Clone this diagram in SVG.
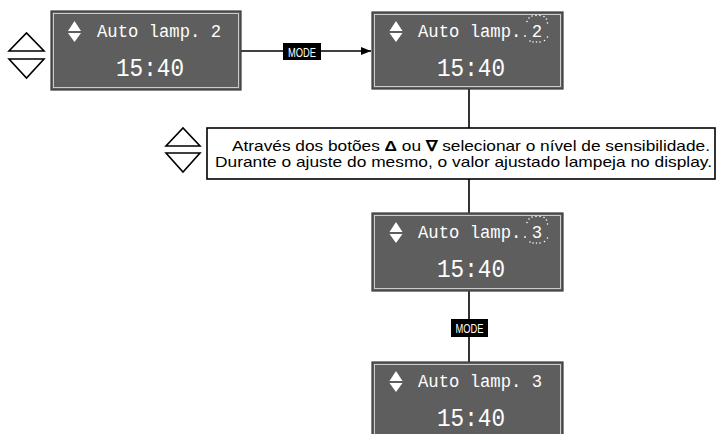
<svg xmlns="http://www.w3.org/2000/svg" width="717" height="434" viewBox="0 0 717 434">
<style>
.lcd{fill:#5e5e5e;stroke:#3a3a3a;stroke-width:1.2}
.lcdin{fill:none;stroke:#d8d8d8;stroke-width:0.9}
.t1{font-family:"Liberation Mono",monospace;font-size:19px;fill:#ffffff}
.t2{font-family:"Liberation Mono",monospace;font-size:26px;fill:#ffffff}
.ico{fill:#ffffff}
.btn{fill:#ffffff;stroke:#000000;stroke-width:1.6;stroke-linejoin:miter}
.conn{stroke:#000000;stroke-width:1.6;fill:none}
.mode{fill:#000000}
.modet{font-family:"Liberation Sans Narrow","Liberation Sans",sans-serif;font-size:13px;fill:#ffffff}
.msg{font-family:"Liberation Sans",sans-serif;font-size:15px;fill:#000000}
.spk{fill:#ffffff}
</style>
<defs>
<marker id="arr" markerWidth="10" markerHeight="8" refX="10" refY="4" orient="auto" markerUnits="userSpaceOnUse">
<path d="M0,0 L10,4 L0,8 Z" fill="#000000"/>
</marker>
<g id="diam">
<path d="M-6.5,10 L6.5,10 L0,0 Z"/>
<path d="M-6.5,12 L6.5,12 L0,21 Z"/>
</g>
<g id="sparkle">
<circle cx="-8" cy="-19" r="0.8"/><circle cx="-5" cy="-21" r="0.8"/><circle cx="-1" cy="-21.5" r="0.8"/><circle cx="3" cy="-21.5" r="0.8"/><circle cx="7" cy="-20.5" r="0.8"/><circle cx="9.5" cy="-18" r="0.8"/>
<circle cx="-10" cy="-15.5" r="0.8"/><circle cx="10.5" cy="-14" r="0.8"/>
<circle cx="10.5" cy="0" r="0.8"/>
<circle cx="-7" cy="4" r="0.8"/><circle cx="-4" cy="5" r="0.8"/><circle cx="-0.5" cy="5" r="0.8"/><circle cx="3" cy="5" r="0.8"/><circle cx="7.5" cy="3.5" r="0.8"/>
</g>
</defs>

<g id="connectors">
<line class="conn" x1="241" y1="51" x2="371" y2="51" marker-end="url(#arr)"/>
<line class="conn" x1="469" y1="89" x2="469" y2="128"/>
<line class="conn" x1="469" y1="179" x2="469" y2="213"/>
<line class="conn" x1="469" y1="291" x2="469" y2="362"/>
<g id="mode1">
<rect class="mode" x="283" y="43" width="38" height="17"/>
<text class="modet" x="302" y="56.5" text-anchor="middle" textLength="28" lengthAdjust="spacingAndGlyphs">MODE</text>
</g>
<g id="mode2">
<rect class="mode" x="451" y="319" width="37" height="18"/>
<text class="modet" x="469.5" y="333" text-anchor="middle" textLength="28" lengthAdjust="spacingAndGlyphs">MODE</text>
</g>
</g>

<g id="buttons1">
<path class="btn" d="M9,51 L44,51 L26.5,33 Z"/>
<path class="btn" d="M9,59 L44,59 L26.5,78 Z"/>
</g>

<g id="display1">
<rect class="lcd" x="51" y="11" width="190" height="79"/>
<rect class="lcdin" x="53.5" y="13.5" width="185" height="74"/>
<use href="#diam" class="ico" x="74.5" y="21"/>
<text class="t1" x="97" y="37" textLength="124" lengthAdjust="spacingAndGlyphs">Auto lamp. 2</text>
<text class="t2" x="116" y="76" textLength="68" lengthAdjust="spacingAndGlyphs">15:40</text>
</g>

<g id="display2">
<rect class="lcd" x="372" y="12" width="191" height="77"/>
<rect class="lcdin" x="374.5" y="14.5" width="186" height="72"/>
<use href="#diam" class="ico" x="396" y="21"/>
<text class="t1" x="418" y="37" textLength="124" lengthAdjust="spacingAndGlyphs">Auto lamp. 2</text>
<use href="#sparkle" class="spk" x="537" y="37"/>
<circle class="spk" cx="525" cy="36" r="0.9"/>
<text class="t2" x="437" y="76" textLength="68" lengthAdjust="spacingAndGlyphs">15:40</text>
</g>

<g id="buttons2">
<path class="btn" d="M166,146 L200,146 L183,128 Z"/>
<path class="btn" d="M166,153 L200,153 L183,172 Z"/>
</g>

<g id="instruction">
<rect x="207" y="128" width="508" height="51" fill="#ffffff" stroke="#000000" stroke-width="1.6"/>
<text class="msg" x="232" y="151" textLength="478" lengthAdjust="spacingAndGlyphs">Através dos botões <tspan font-weight="bold">Δ</tspan> ou <tspan font-weight="bold">∇</tspan> selecionar o nível de sensibilidade.</text>
<text class="msg" x="215" y="167" textLength="497" lengthAdjust="spacingAndGlyphs">Durante o ajuste do mesmo, o valor ajustado lampeja no display.</text>
</g>

<g id="display3">
<rect class="lcd" x="372" y="213" width="191" height="78"/>
<rect class="lcdin" x="374.5" y="215.5" width="186" height="73"/>
<use href="#diam" class="ico" x="396" y="222"/>
<text class="t1" x="418" y="238" textLength="124" lengthAdjust="spacingAndGlyphs">Auto lamp. 3</text>
<use href="#sparkle" class="spk" x="537" y="238"/>
<circle class="spk" cx="525" cy="237" r="0.9"/>
<text class="t2" x="437" y="277" textLength="68" lengthAdjust="spacingAndGlyphs">15:40</text>
</g>

<g id="display4">
<rect class="lcd" x="372" y="362" width="191" height="80"/>
<rect class="lcdin" x="374.5" y="364.5" width="186" height="80"/>
<use href="#diam" class="ico" x="396" y="371"/>
<text class="t1" x="418" y="387" textLength="124" lengthAdjust="spacingAndGlyphs">Auto lamp. 3</text>
<text class="t2" x="437" y="426" textLength="68" lengthAdjust="spacingAndGlyphs">15:40</text>
</g>
</svg>
